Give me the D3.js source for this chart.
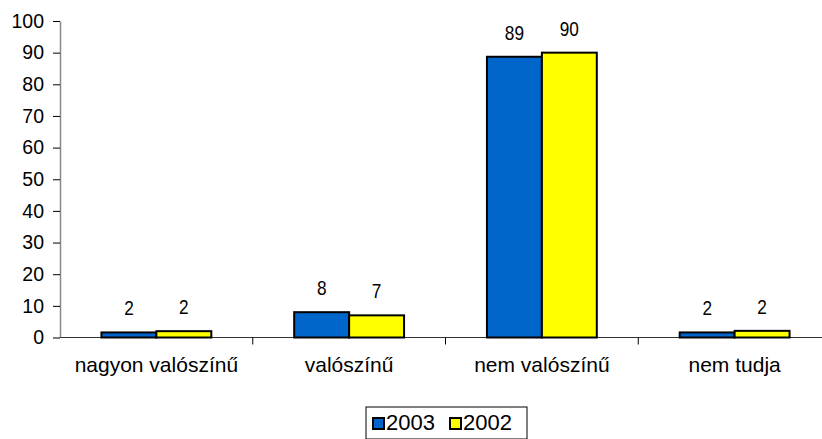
<!DOCTYPE html>
<html lang="hu">
<head>
    <meta charset="UTF-8">
    <title>Chart</title>
    <script src="https://cdn.jsdelivr.net/npm/d3@7"></script>
    <style>
        body { margin: 0; background: #fff; }
        svg text { font-family: "Liberation Sans", Arial, sans-serif; fill: #000; }
    </style>
</head>
<body>
<div id="chart"></div>
<script>
    const categories = ["nagyon valószínű", "valószínű", "nem valószínű", "nem tudja"];
    const seriesNames = ["2003", "2002"];
    const values2003 = [1.6, 8, 88.7, 1.6];
    const values2002 = [2.0, 7, 90, 2.1];
    const yTicks = [0, 10, 20, 30, 40, 50, 60, 70, 80, 90, 100];
    const colors = ["#0066cc", "#ffff00"];

    const width = 822, height = 439;
    const margin = {left: 60, top: 21, right: -9, bottom: 101.5};

    const svg = d3.select("#chart").append("svg")
        .attr("width", width)
        .attr("height", height);

    const x = d3.scaleBand()
        .domain(categories)
        .range([margin.left, width - margin.right])
        .paddingInner(0.43)
        .paddingOuter(0.215);

    const xSub = d3.scaleBand()
        .domain(seriesNames)
        .range([0, x.bandwidth()]);

    const y = d3.scaleLinear()
        .domain([0, 100])
        .range([height - margin.bottom, margin.top]);

    // y axis
    const yAxis = svg.append("g")
        .attr("transform", `translate(${margin.left},0)`)
        .call(d3.axisLeft(y).tickValues(yTicks).tickSize(7).tickSizeOuter(0).tickPadding(9));
    yAxis.select(".domain").attr("stroke", "#888").attr("stroke-width", 1.5);
    yAxis.selectAll(".tick line").attr("stroke", "#000");
    yAxis.selectAll(".tick text").style("font-size", "19.5px");

    // x axis, ticks sit between categories
    const step = x.step();
    const xLine = svg.append("g");
    xLine.append("line")
        .attr("x1", margin.left).attr("x2", width - margin.right)
        .attr("y1", y(0)).attr("y2", y(0))
        .attr("stroke", "#333").attr("stroke-width", 1);
    const bounds = d3.range(1, categories.length).map(i => margin.left + i * step);
    xLine.selectAll("line.sep").data(bounds).enter()
        .append("line")
        .attr("class", "sep")
        .attr("x1", d => d).attr("x2", d => d)
        .attr("y1", y(0)).attr("y2", y(0) + 7)
        .attr("stroke", "#000");
    xLine.selectAll("text.cat").data(categories).enter()
        .append("text")
        .attr("class", "cat")
        .attr("x", d => x(d) + x.bandwidth() / 2)
        .attr("y", y(0) + 34)
        .attr("text-anchor", "middle")
        .style("font-size", "21px")
        .text(d => d);

    const rows = categories.map((c, i) => ({
        cat: c,
        vals: [{s: "2003", v: values2003[i], c: colors[0]}, {s: "2002", v: values2002[i], c: colors[1]}]
    }));

    const groups = svg.selectAll("g.grp").data(rows).enter()
        .append("g")
        .attr("class", "grp")
        .attr("transform", d => `translate(${x(d.cat)},0)`);

    groups.selectAll("rect").data(d => d.vals).enter()
        .append("rect")
        .attr("x", d => xSub(d.s))
        .attr("width", xSub.bandwidth())
        .attr("y", d => y(d.v))
        .attr("height", d => y(0) - y(d.v))
        .attr("fill", d => d.c)
        .attr("stroke", "#000")
        .attr("stroke-width", 2);

    // value labels, narrow face -> squeeze horizontally
    groups.selectAll("text.val").data(d => d.vals).enter()
        .append("text")
        .attr("class", "val")
        .attr("transform", d => `translate(${xSub(d.s) + xSub.bandwidth() / 2},${y(d.v) - 17}) scale(0.82,1)`)
        .attr("text-anchor", "middle")
        .style("font-size", "21px")
        .text(d => d3.format(".0f")(d.v));

    // legend
    const legend = svg.append("g").attr("transform", "translate(366,407)");
    legend.append("rect")
        .attr("width", 161).attr("height", 32)
        .attr("fill", "#fff").attr("stroke", "#000").attr("stroke-width", 1);
    const items = legend.selectAll("g.item").data(seriesNames).enter()
        .append("g")
        .attr("class", "item")
        .attr("transform", (d, i) => `translate(${7 + i * 77},11)`);
    items.append("rect")
        .attr("width", 11).attr("height", 11)
        .attr("fill", (d, i) => colors[i])
        .attr("stroke", "#000").attr("stroke-width", 2);
    items.append("text")
        .attr("x", 13).attr("y", 12)
        .style("font-size", "22px")
        .text(d => d);
</script>
</body>
</html>
